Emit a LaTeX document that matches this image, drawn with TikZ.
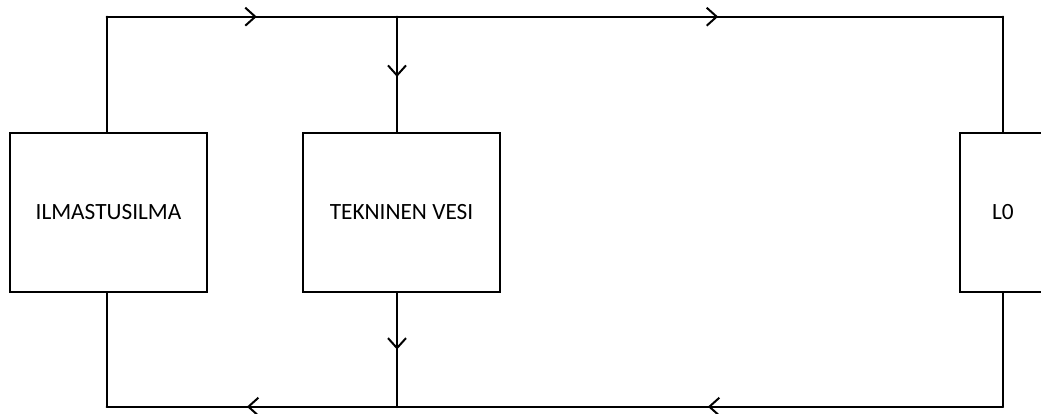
\documentclass[tikz,border=0pt]{standalone}
\usepackage{fontspec}
\setmainfont{Carlito}
\usetikzlibrary{arrows.meta,decorations.markings}
\tikzset{
  blockbox/.style={draw, line width=2pt, minimum width=197pt, minimum height=158pt, inner sep=0pt,
    font=\fontsize{23.3}{28}\selectfont},
  wire/.style={line width=2pt, line cap=round, line join=round},
  midarrow/.style={postaction={decorate}, decoration={markings,
    mark=at position #1 with {\arrow{Straight Barb[length=10pt,width=18pt,line width=2pt]}}}}
}
\begin{document}
\begin{tikzpicture}[x=1pt,y=-1pt]
\useasboundingbox (0,0) rectangle (1041,414);
\clip (0,0) rectangle (1041,414);
\node[blockbox] (b1) at (108.5,212.5) {ILMASTUSILMA};
\node[blockbox] (b2) at (401.5,212.5) {TEKNINEN VESI};
\node[blockbox, minimum width=86pt] (b3) at (1003,212.5) {L0};
\coordinate (tl) at (106.7,16.7);
\coordinate (tm) at (397,16.7);
\coordinate (tr) at (1003,16.7);
\coordinate (bl) at (106.7,406.7);
\coordinate (bm) at (397,406.7);
\coordinate (br) at (1003,406.7);
% top return lines
\draw[wire] (b1.north -| tl) -- (tl);
\draw[wire, midarrow=0.517] (tl) -- (tm);
\draw[wire, midarrow=0.53] (tm) -- (tr);
\draw[wire] (tr) -- (b3.north -| tr);
\draw[wire, midarrow=0.52] (tm) -- (b2.north -| tm);
% bottom lines
\draw[wire] (b3.south -| br) -- (br);
\draw[wire, midarrow=0.487] (br) -- (bm);
\draw[wire, midarrow=0.517] (bm) -- (bl);
\draw[wire] (bl) -- (b1.south -| bl);
\draw[wire, midarrow=0.5] (b2.south -| bm) -- (bm);
\end{tikzpicture}
\end{document}
